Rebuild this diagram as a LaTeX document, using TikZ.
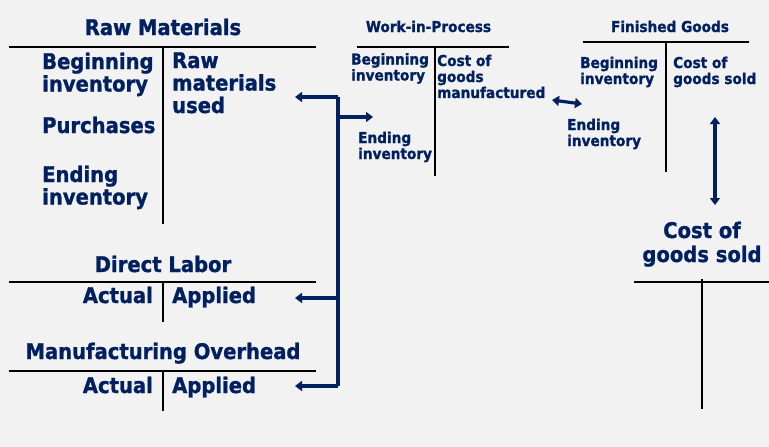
\documentclass[tikz,border=0pt]{standalone}
\usepackage{fontspec}
\setmainfont{DejaVu Sans}[FakeStretch=0.91,BoldFeatures={FakeBold=1.2}]
\usetikzlibrary{arrows.meta}
\definecolor{navy}{RGB}{0,32,96}
\definecolor{bgc}{RGB}{242,242,242}
\newcommand\twol[3]{\vtop{\baselineskip=#1\relax\hbox{#2}\hbox{#3}}}
\newcommand\threel[4]{\vtop{\baselineskip=#1\relax\hbox{#2}\hbox{#3}\hbox{#4}}}
\begin{document}
\begin{tikzpicture}[x=1pt,y=-1pt,
  big/.style={inner sep=0pt,text=navy,font=\bfseries\fontsize{21.5}{22.5}\selectfont},
  sm/.style={inner sep=0pt,text=navy,font=\bfseries\fontsize{15}{16}\selectfont},
  tacc/.style={draw=black,line width=2pt},
  tthin/.style={draw=black,line width=1.2pt},
  conn/.style={draw=navy,line width=3.2pt},
  arr/.style={conn,-{Triangle[length=7pt,width=10pt]}},
  darr/.style={conn,{Triangle[length=7pt,width=10pt]}-{Triangle[length=7pt,width=10pt]}}]
\fill[bgc] (0,0) rectangle (769,447);
\useasboundingbox (0,0) rectangle (769,447);
% Raw Materials
\node[big,anchor=base] (rmt) at (163,35) {Raw Materials};
\draw[tacc] (9,47) -- (316,47);
\draw[tacc] (163,47) -- (163,224);
\node[big,anchor=base west] (rmbi) at (42,69) {\twol{22.5pt}{Beginning}{inventory}};
\node[big,anchor=base west] (rmp) at (42,133) {Purchases};
\node[big,anchor=base west] (rmei) at (42,182) {\twol{22.5pt}{Ending}{inventory}};
\node[big,anchor=base west] (rmu) at (172,68) {\threel{22.5pt}{Raw}{materials}{used}};
% Direct Labor
\node[big,anchor=base] (dlt) at (163,272) {Direct Labor};
\draw[tacc] (9,282) -- (316,282);
\draw[tacc] (163,282) -- (163,322);
\node[big,anchor=base east] (dla) at (153,303) {Actual};
\node[big,anchor=base west] (dlp) at (172,303) {Applied};
% Manufacturing Overhead
\node[big,anchor=base] (mot) at (163,359) {Manufacturing Overhead};
\draw[tacc] (9,371) -- (316,371);
\draw[tacc] (163,371) -- (163,411);
\node[big,anchor=base east] (moa) at (153,393) {Actual};
\node[big,anchor=base west] (mop) at (172,393) {Applied};
% Work-in-Process
\node[sm,anchor=base] (wipt) at (428.5,32) {Work-in-Process};
\draw[tthin] (357,47) -- (509,47);
\draw[tthin] (435,47) -- (435,176);
\node[sm,anchor=base west] (wipbi) at (351,64.5) {\twol{16pt}{Beginning}{inventory}};
\node[sm,anchor=base west] (wipc) at (437,66) {\threel{16pt}{Cost of}{goods}{manufactured}};
\node[sm,anchor=base west] (wipei) at (358,143) {\twol{16pt}{Ending}{inventory}};
% Finished Goods
\node[sm,anchor=base] (fgt) at (670,32) {Finished Goods};
\draw[tthin] (583,42) -- (749,42);
\draw[tthin] (666,42) -- (666,172);
\node[sm,anchor=base west] (fgbi) at (580,68) {\twol{16pt}{Beginning}{inventory}};
\node[sm,anchor=base west] (fgc) at (673,68) {\twol{16pt}{Cost of}{goods sold}};
\node[sm,anchor=base west] (fgei) at (567,130) {\twol{16pt}{Ending}{inventory}};
% Cost of goods sold
\node[big,anchor=base] (cg1) at (702,238) {Cost of};
\node[big,anchor=base] (cg2) at (702,262) {goods sold};
\draw[tthin] (634,282) -- (769,282);
\draw[tthin] (702,279) -- (702,409);
% connectors
\coordinate (b1) at (338,97);
\coordinate (b2) at (338,117);
\coordinate (b3) at (338,298);
\coordinate (b4) at (338,386);
\coordinate (t1) at (295,97);
\coordinate (t2) at (373,117);
\coordinate (t3) at (295,298);
\coordinate (t4) at (295,386);
\coordinate (d1) at (552,100);
\coordinate (d2) at (582,104);
\coordinate (v1) at (715,117);
\coordinate (v2) at (715,205);
\draw[conn] (b1) -- (b4);
\draw[arr] (b1) -- (t1);
\draw[arr] (b2) -- (t2);
\draw[arr] (b3) -- (t3);
\draw[arr] (b4) -- (t4);
\draw[darr] (d1) -- (d2);
\draw[darr] (v1) -- (v2);
\end{tikzpicture}
\end{document}
